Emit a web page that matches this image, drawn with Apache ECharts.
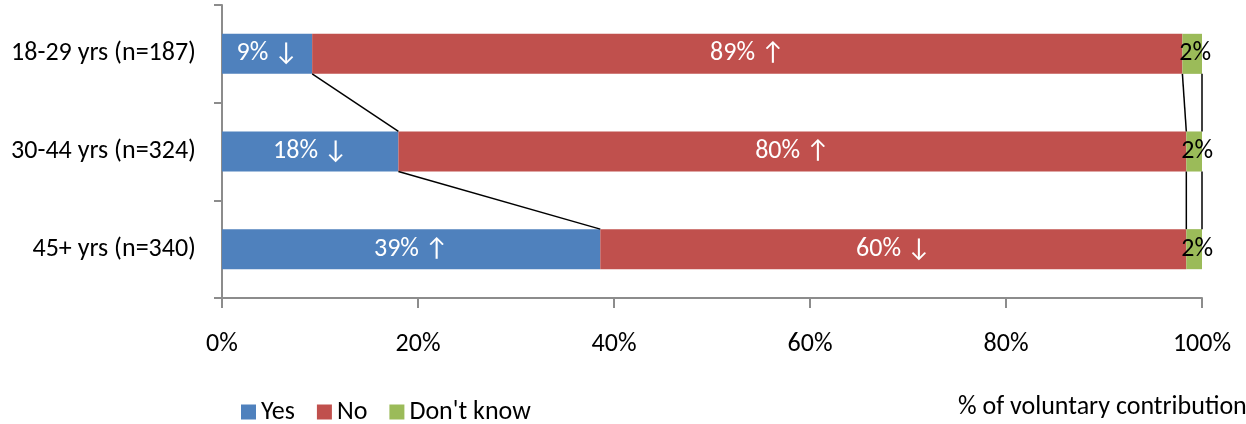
<!DOCTYPE html>
<html>
<head>
<meta charset="utf-8">
<script src="https://cdn.jsdelivr.net/npm/echarts@6/dist/echarts.min.js"></script>
<style>
html,body{margin:0;padding:0;background:#fff;}
#chart{width:1246px;height:424px;}
</style>
</head>
<body>
<div id="chart"></div>
<script>
const categories = ['18-29 yrs (n=187)', '30-44 yrs (n=324)', '45+ yrs (n=340)'];
const yesValues = [9.2, 18.0, 38.6];
const noValues = [88.8, 80.4, 59.8];
const dkValues = [2.0, 1.6, 1.6];
const yesArrows = ['↓', '↓', '↑'];
const noArrows = ['↑', '↑', '↓'];
const xTicks = [0, 20, 40, 60, 80, 100];
const seriesNames = ['Yes', 'No', "Don't know"];
const axisTitle = '% of voluntary contribution';

const FONT = 'Carlito, Lato, sans-serif';
const FS = 26;
const BAR_FRAC = 0.41;

// cumulative boundaries for series lines
const cumYes = yesValues.slice();
const cumNo = yesValues.map((v, i) => v + noValues[i]);
const cumAll = yesValues.map((v, i) => v + noValues[i] + dkValues[i]);
const connData = [];
[cumYes, cumNo, cumAll].forEach(arr => {
  for (let i = 0; i < arr.length - 1; i++) connData.push([i, arr[i], arr[i + 1]]);
});

const chart = echarts.init(document.getElementById('chart'), null, {renderer: 'canvas'});
const labelBase = {show: true, position: 'inside', fontFamily: FONT, fontSize: FS};
chart.setOption({
  animation: false,
  textStyle: {fontFamily: FONT},
  grid: {left: 222, right: 44, top: 5, bottom: 126, containLabel: false},
  legend: {
    left: 236, top: 394, itemWidth: 15, itemHeight: 15, itemGap: 22,
    icon: 'rect',
    textStyle: {fontFamily: FONT, fontSize: FS, color: '#000'},
    data: seriesNames
  },
  graphic: [{
    type: 'text', left: 958, top: 394,
    style: {text: axisTitle, font: FS + 'px ' + FONT, fill: '#000'}
  }],
  xAxis: {
    type: 'value', min: 0, max: 100, interval: 20,
    axisLine: {show: true, lineStyle: {color: '#8c8c8c', width: 2}},
    axisTick: {show: true, length: 10, lineStyle: {color: '#8c8c8c', width: 2}},
    splitLine: {show: false},
    axisLabel: {
      margin: 33, fontSize: FS, color: '#000', fontFamily: FONT,
      formatter: v => xTicks.includes(v) ? v + '%' : ''
    }
  },
  yAxis: {
    type: 'category', data: categories, inverse: true,
    axisLine: {show: true, lineStyle: {color: '#8c8c8c', width: 2}},
    axisTick: {show: true, length: 8, lineStyle: {color: '#8c8c8c', width: 2}},
    axisLabel: {margin: 26, fontSize: FS, color: '#000', fontFamily: FONT}
  },
  series: [
    {
      name: 'Yes', type: 'bar', stack: 't', barWidth: (BAR_FRAC * 100) + '%',
      itemStyle: {color: '#4F81BD'}, data: yesValues,
      label: Object.assign({}, labelBase, {color: '#fff',
        formatter: p => Math.round(p.value) + '% ' + yesArrows[p.dataIndex]})
    },
    {
      name: 'No', type: 'bar', stack: 't',
      itemStyle: {color: '#C0504D'}, data: noValues,
      label: Object.assign({}, labelBase, {color: '#fff',
        formatter: p => Math.round(p.value) + '% ' + noArrows[p.dataIndex]})
    },
    {
      name: "Don't know", type: 'bar', stack: 't',
      itemStyle: {color: '#9BBB59'}, data: dkValues,
      label: Object.assign({}, labelBase, {color: '#000', offset: [3, 0],
        formatter: p => Math.round(p.value) + '%'})
    },
    {
      name: 'seriesLines', type: 'custom', silent: true, z: 5,
      data: connData,
      encode: {x: [1, 2], y: 0},
      renderItem: function (params, api) {
        const i = api.value(0);
        const p1 = api.coord([api.value(1), i]);
        const p2 = api.coord([api.value(2), i + 1]);
        const half = api.size([0, 1])[1] * BAR_FRAC / 2;
        return {
          type: 'line',
          shape: {x1: p1[0], y1: p1[1] + half, x2: p2[0], y2: p2[1] - half},
          style: {stroke: '#000', lineWidth: 1.5}
        };
      }
    }
  ]
});
</script>
</body>
</html>
